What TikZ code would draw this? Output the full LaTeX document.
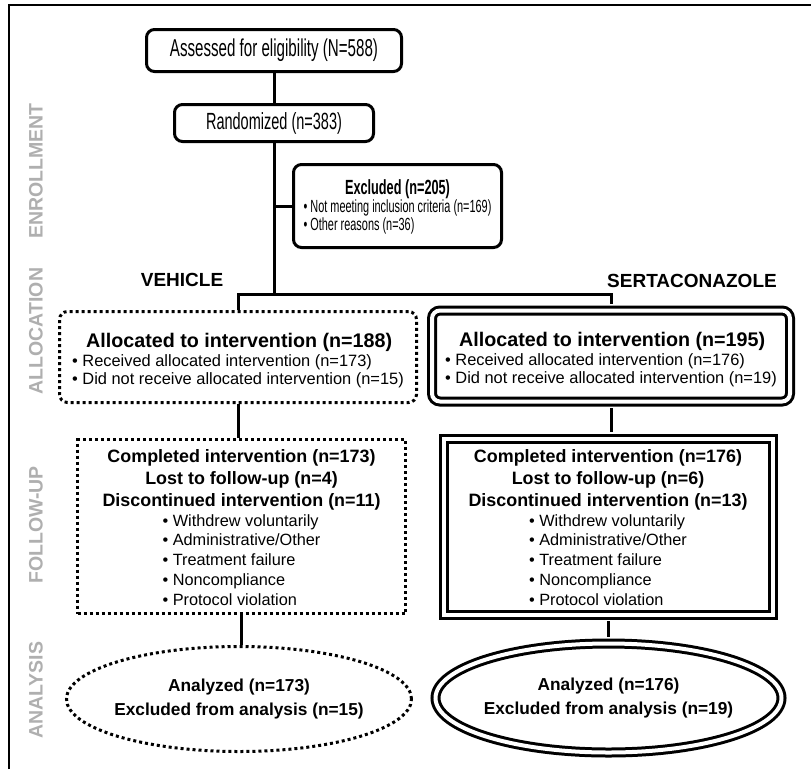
\documentclass[tikz,border=0pt]{standalone}
\usepackage{fontspec}
\setmainfont{Liberation Sans}
\newfontfamily\narrowsans[FakeStretch=0.62]{Liberation Sans}
\usetikzlibrary{shapes.geometric}
\definecolor{phasegray}{RGB}{175,175,175}
\tikzset{
  roundbox/.style={draw, line width=3pt, rounded corners=8pt, inner sep=0pt, align=center},
  dotbox/.style={draw, line width=3pt, dash pattern=on 3pt off 3pt, inner sep=0pt, align=center},
  dblbox/.style={draw, line width=3pt, double, double distance=4pt, inner sep=0pt, align=center},
  conn/.style={line width=3pt},
  phase/.style={rotate=90, text=phasegray, font=\fontsize{19.5}{20}\selectfont\bfseries},
  arm/.style={font=\bfseries\fontsize{19}{20}\selectfont},
  allocfont/.style={font=\fontsize{16.4}{18.5}\selectfont},
  followfont/.style={font=\bfseries\fontsize{17.9}{21.8}\selectfont},
  analysisfont/.style={font=\bfseries\fontsize{17.3}{24.5}\selectfont},
}
\begin{document}
\begin{tikzpicture}[x=1pt, y=-1pt]
    \useasboundingbox (0,0) rectangle (811,769);
    \draw[line width=1.3pt] (9,769) -- (9,5) -- (811,5);

    % phase labels
    \node[phase] (enroll) at (36,171) {ENROLLMENT};
    \node[phase] (alloc) at (36,331) {ALLOCATION};
    \node[phase] (follow) at (36,525) {FOLLOW-UP};
    \node[phase] (analysis) at (36,690) {ANALYSIS};

    % Define the positions of the nodes
    \node[roundbox, font=\narrowsans\fontsize{24.4}{26}\selectfont, minimum width=255pt, minimum height=42pt] (assess) at (274,50.5) {Assessed for eligibility (N=588)};
    \node[roundbox, font=\narrowsans\fontsize{23.4}{26}\selectfont, minimum width=199pt, minimum height=37pt] (random) at (274,123) {Randomized (n=383)};
    \node[roundbox, font=\narrowsans\fontsize{17.6}{17}\selectfont, minimum width=208pt, minimum height=83pt] (excl) at (397.5,206) {\begin{tabular}{@{}l@{}}\multicolumn{1}{@{}c@{}}{\rule{0pt}{18pt}\bfseries\fontsize{20.5}{20}\selectfont Excluded (n=205)}\\ • Not meeting inclusion criteria (n=169)\\ • Other reasons (n=36)\end{tabular}};

    \node[arm] (vehicle) at (182,280) {VEHICLE};
    \node[arm] (serta) at (692,281) {SERTACONAZOLE};

    \node[dotbox, rounded corners=8pt, allocfont, minimum width=357pt, minimum height=91pt] (allocV) at (238,357) {\begin{tabular}{@{}l@{}}\hspace*{14pt}\rule{0pt}{24pt}{\bfseries\fontsize{19.7}{20}\selectfont Allocated to intervention (n=188)}\\ • Received allocated intervention (n=173)\\ • Did not receive allocated intervention (n=15)\end{tabular}};
    \node[dblbox, rounded corners=8pt, allocfont, minimum width=358pt, minimum height=91pt] (allocS) at (611,356) {\begin{tabular}{@{}l@{}}\hspace*{14pt}\rule{0pt}{24pt}{\bfseries\fontsize{19.7}{20}\selectfont Allocated to intervention (n=195)}\\ • Received allocated intervention (n=176)\\ • Did not receive allocated intervention (n=19)\end{tabular}};

    \node[dotbox, followfont, minimum width=328pt, minimum height=174pt] (fuV) at (241.5,526.5) {\rule{0pt}{21pt}Completed intervention (n=173)\\ Lost to follow-up (n=4)\\ Discontinued intervention (n=11)\\[-2pt] {\mdseries\fontsize{16.3}{19.8}\selectfont\begin{tabular}[t]{@{}l@{}}• Withdrew voluntarily\\ • Administrative/Other\\ • Treatment failure\\ • Noncompliance\\ • Protocol violation\end{tabular}}};
    \node[dblbox, followfont, minimum width=329pt, minimum height=176pt] (fuS) at (608,526.5) {\rule{0pt}{21pt}Completed intervention (n=176)\\ Lost to follow-up (n=6)\\ Discontinued intervention (n=13)\\[-2pt] {\mdseries\fontsize{16.3}{19.8}\selectfont\begin{tabular}[t]{@{}l@{}}• Withdrew voluntarily\\ • Administrative/Other\\ • Treatment failure\\ • Noncompliance\\ • Protocol violation\end{tabular}}};

    \node[dotbox, ellipse, analysisfont, inner xsep=-3pt, minimum width=345pt, minimum height=105pt] (anV) at (239,699) {Analyzed (n=173)\\ Excluded from analysis (n=15)};
    \node[dblbox, ellipse, analysisfont, inner xsep=-3pt, minimum width=346pt, minimum height=109pt] (anS) at (608.5,698) {Analyzed (n=176)\\ Excluded from analysis (n=19)};

    % Draw the edges
    \coordinate (split) at (274,294);
    \draw[conn] (assess) -- (random);
    \draw[conn] (random) -- (split);
    \draw[conn] (random.south |- excl.west) -- (excl.west);
    \draw[conn, shorten >=5pt] (allocV.north) |- (split) -| (allocS.north);

    \draw[conn] (allocV.south) -- (allocV.south |- fuV.north);
    \draw[conn, shorten <=5pt, shorten >=5pt] (allocS.south) -- (allocS.south |- fuS.north);

    \draw[conn] (fuV.south) -- (fuV.south |- anV.north);
    \draw[conn, shorten <=5pt, shorten >=5pt] (fuS.south) -- (fuS.south |- anS.north);
\end{tikzpicture}
\end{document}
